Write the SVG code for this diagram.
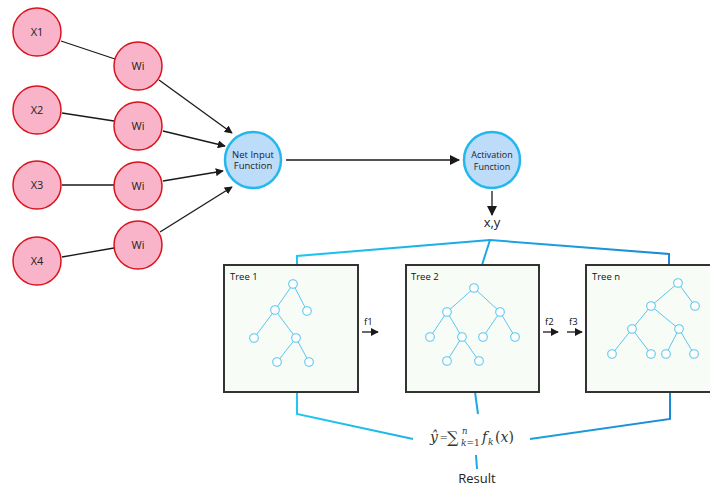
<svg xmlns="http://www.w3.org/2000/svg" width="710" height="487" viewBox="0 0 710 487">
<defs>
<marker id="ah" viewBox="0 0 10 10" refX="9" refY="5" markerWidth="8" markerHeight="8" markerUnits="userSpaceOnUse" orient="auto">
<path d="M0,0 L10,5 L0,10 z" fill="#1a1a1a"/>
</marker>
<marker id="ah2" viewBox="0 0 10 10" refX="9" refY="5" markerWidth="10" markerHeight="10" markerUnits="userSpaceOnUse" orient="auto">
<path d="M0,0 L10,5 L0,10 z" fill="#1a1a1a"/>
</marker>
<linearGradient id="bl" gradientUnits="userSpaceOnUse" x1="297" y1="0" x2="670" y2="0">
<stop offset="0" stop-color="#1fc6f0"/>
<stop offset="1" stop-color="#1a8ad6"/>
</linearGradient>
<style>
.in{fill:#f9b4c9;stroke:#d9141e;stroke-width:1.5}
.fn{fill:#bcdcfa;stroke:#22b8ec;stroke-width:2.5}
.t{font-family:"Open Sans","Noto Sans",sans-serif;fill:#222;text-anchor:middle}
.c{stroke:#1a1a1a;stroke-width:1.3;fill:none}
.box{fill:#f8fcf6;stroke:#333;stroke-width:2}
.tl{stroke:#5cc6f0;stroke-width:1;fill:none}
.tn{fill:#fff;stroke:#5cc6f0;stroke-width:1.1}
.b{stroke:url(#bl);stroke-width:2;fill:none}
.lbl{font-family:"Open Sans","Noto Sans",sans-serif;font-size:9.5px;fill:#111}
</style>
</defs>
<rect width="710" height="487" fill="#fff"/>

<g id="connectors">
<line class="c" x1="61" y1="41" x2="115" y2="59"/>
<line class="c" x1="62" y1="113" x2="114" y2="121"/>
<line class="c" x1="62" y1="185" x2="114" y2="185"/>
<line class="c" x1="62" y1="257" x2="114" y2="248"/>
<line class="c" x1="159" y1="80" x2="232" y2="133" marker-end="url(#ah)"/>
<line class="c" x1="163" y1="131" x2="225" y2="146" marker-end="url(#ah)"/>
<line class="c" x1="163" y1="181" x2="223" y2="171" marker-end="url(#ah)"/>
<line class="c" x1="160" y1="232" x2="232" y2="187" marker-end="url(#ah)"/>
<line class="c" x1="286" y1="160" x2="459" y2="160" stroke-width="1.8" marker-end="url(#ah2)"/>
<line class="c" x1="492" y1="191" x2="492" y2="215" stroke-width="2" marker-end="url(#ah2)"/>
<polyline class="b" points="297,265 297,256 490,240 669,254 669,265"/>
<line class="b" x1="490" y1="240" x2="482" y2="265"/>
<polyline class="b" points="297,392 297,414 413,439"/>
<line class="b" x1="475" y1="392" x2="478" y2="414"/>
<polyline class="b" points="530,439 670,419 670,392"/>
<line class="b" x1="476" y1="455" x2="477" y2="469"/>
<line class="c" x1="362" y1="332" x2="378" y2="332" stroke-width="1.8" marker-end="url(#ah)"/>
<line class="c" x1="543" y1="332" x2="558" y2="332" stroke-width="1.8" marker-end="url(#ah)"/>
<line class="c" x1="567" y1="332" x2="582" y2="332" stroke-width="1.8" marker-end="url(#ah)"/>
</g>

<g id="x1"><circle class="in" cx="37" cy="32" r="24"/><text class="t" x="37" y="36" font-size="11">X1</text></g>
<g id="x2"><circle class="in" cx="37" cy="110" r="24"/><text class="t" x="37" y="114" font-size="11">X2</text></g>
<g id="x3"><circle class="in" cx="37" cy="185" r="24"/><text class="t" x="37" y="189" font-size="11">X3</text></g>
<g id="x4"><circle class="in" cx="37" cy="261" r="24"/><text class="t" x="37" y="265" font-size="11">X4</text></g>
<g id="w1"><circle class="in" cx="138" cy="66" r="24"/><text class="t" x="138" y="70" font-size="11">Wi</text></g>
<g id="w2"><circle class="in" cx="138" cy="126" r="24"/><text class="t" x="138" y="130" font-size="11">Wi</text></g>
<g id="w3"><circle class="in" cx="138" cy="186" r="24"/><text class="t" x="138" y="190" font-size="11">Wi</text></g>
<g id="w4"><circle class="in" cx="138" cy="245" r="24"/><text class="t" x="138" y="249" font-size="11">Wi</text></g>

<g id="net"><circle class="fn" cx="253" cy="160" r="28"/>
<text class="t" font-size="9.5"><tspan x="253" y="157.5">Net Input</tspan><tspan x="253" y="169">Function</tspan></text></g>
<g id="act"><circle class="fn" cx="492" cy="160" r="28"/>
<text class="t" font-size="9"><tspan x="492" y="158">Activation</tspan><tspan x="492" y="170">Function</tspan></text></g>

<text class="t" x="492" y="227" font-size="13">x,y</text>

<g id="tree1">
<rect class="box" x="224" y="265" width="134" height="127"/>
<text class="lbl" x="230" y="280">Tree 1</text>
<path class="tl" d="M293,284 L275,310 M293,284 L307,311 M275,310 L254,338 M275,310 L296,338 M296,338 L277,362 M296,338 L309,362"/>
<circle class="tn" cx="293" cy="284" r="4.3"/><circle class="tn" cx="275" cy="310" r="4.3"/><circle class="tn" cx="307" cy="311" r="4.3"/>
<circle class="tn" cx="254" cy="338" r="4.3"/><circle class="tn" cx="296" cy="338" r="4.3"/>
<circle class="tn" cx="277" cy="362" r="4.3"/><circle class="tn" cx="309" cy="362" r="4.3"/>
</g>
<g id="tree2">
<rect class="box" x="406" y="265" width="133" height="127"/>
<text class="lbl" x="411" y="280">Tree 2</text>
<path class="tl" d="M474,288 L447,312 M474,288 L500,312 M447,312 L430,337 M447,312 L462,337 M500,312 L483,337 M500,312 L515,337 M462,337 L447,361 M462,337 L479,361"/>
<circle class="tn" cx="474" cy="288" r="4.3"/><circle class="tn" cx="447" cy="312" r="4.3"/><circle class="tn" cx="500" cy="312" r="4.3"/>
<circle class="tn" cx="430" cy="337" r="4.3"/><circle class="tn" cx="462" cy="337" r="4.3"/><circle class="tn" cx="483" cy="337" r="4.3"/><circle class="tn" cx="515" cy="337" r="4.3"/>
<circle class="tn" cx="447" cy="361" r="4.3"/><circle class="tn" cx="479" cy="361" r="4.3"/>
</g>
<g id="treen">
<rect class="box" x="586" y="265" width="134" height="127"/>
<text class="lbl" x="592" y="280">Tree n</text>
<path class="tl" d="M678,283 L651,306 M678,283 L695,306 M651,306 L632,329 M651,306 L679,329 M632,329 L612,354 M632,329 L651,354 M679,329 L666,354 M679,329 L694,354"/>
<circle class="tn" cx="678" cy="283" r="4.3"/><circle class="tn" cx="651" cy="306" r="4.3"/><circle class="tn" cx="695" cy="306" r="4.3"/>
<circle class="tn" cx="632" cy="329" r="4.3"/><circle class="tn" cx="679" cy="329" r="4.3"/>
<circle class="tn" cx="612" cy="354" r="4.3"/><circle class="tn" cx="651" cy="354" r="4.3"/><circle class="tn" cx="666" cy="354" r="4.3"/><circle class="tn" cx="694" cy="354" r="4.3"/>
</g>

<text class="lbl" x="364" y="325" font-size="9">f1</text>
<text class="lbl" x="545" y="325" font-size="9">f2</text>
<text class="lbl" x="569" y="325" font-size="9">f3</text>

<g id="formula" font-family="'DejaVu Serif','Liberation Serif',serif" fill="#333">
<text x="430" y="442" font-size="14" font-style="italic">ŷ</text>
<text x="439.5" y="441" font-size="10">=</text>
<text x="447" y="443" font-size="16">∑</text>
<text x="462" y="434" font-size="8.5" font-style="italic">n</text>
<text x="461" y="446" font-size="9"><tspan font-style="italic">k</tspan>=1</text>
<text x="482" y="442" font-size="14" font-style="italic">f</text>
<text x="488" y="445" font-size="9" font-style="italic">k</text>
<text x="495" y="442" font-size="14">(<tspan font-style="italic">x</tspan>)</text>
</g>

<text class="t" x="477" y="483" font-size="13">Result</text>
</svg>
